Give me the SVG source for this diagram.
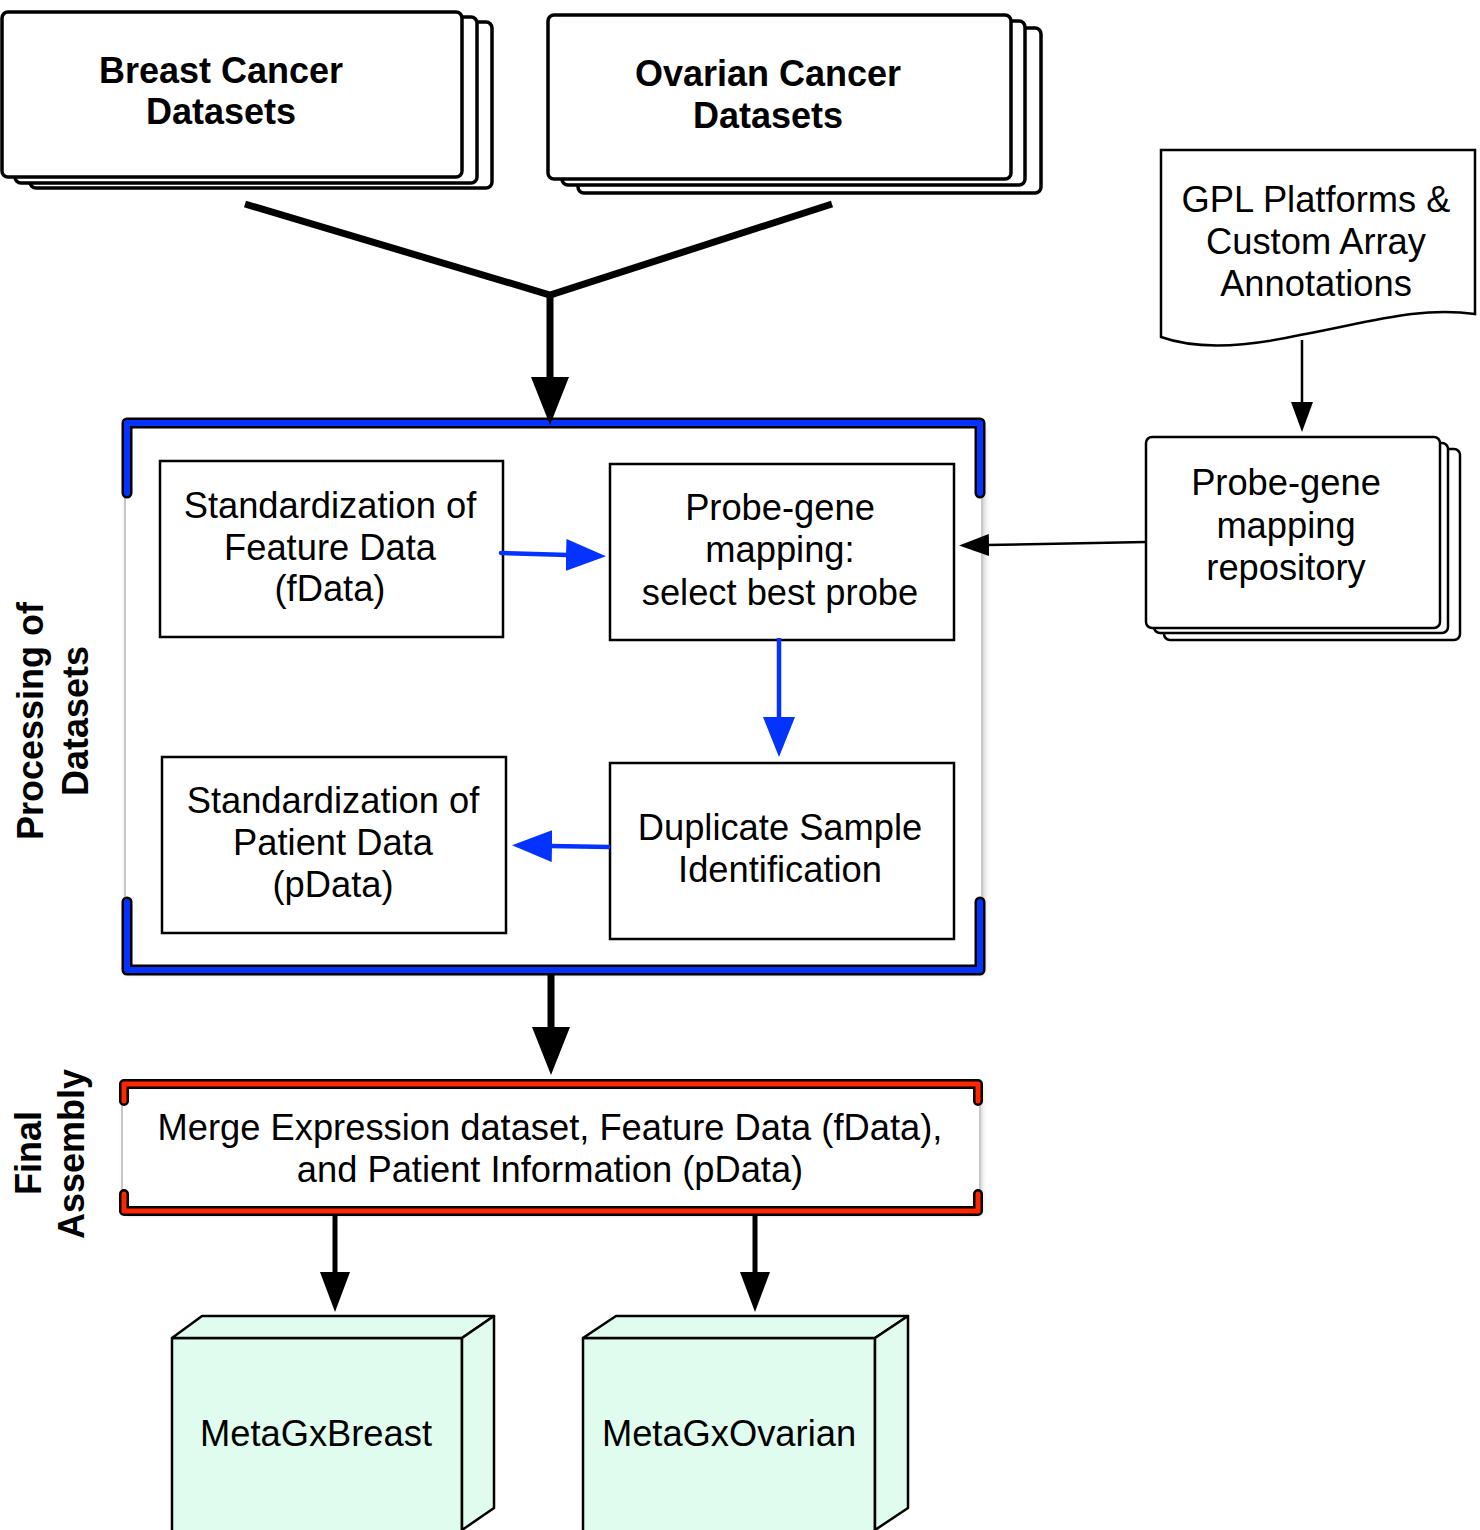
<svg xmlns="http://www.w3.org/2000/svg" width="1480" height="1530" viewBox="0 0 1480 1530">
<defs>
<style>
.t{font-family:"Liberation Sans",Arial,sans-serif;font-size:36.3px;fill:#000;text-anchor:middle}
.b{font-family:"Liberation Sans",Arial,sans-serif;font-size:36px;font-weight:bold;fill:#000;text-anchor:middle}
.stk{fill:#fff;stroke:#000;stroke-width:3.5}
.stk2{fill:#fff;stroke:#000;stroke-width:2.5}
.box{fill:#fff;stroke:#000;stroke-width:2.5}
.cube{fill:#E0FCEE;stroke:#000;stroke-width:2.5;stroke-linejoin:round}
.outline{fill:none;stroke:#000;stroke-linecap:round;stroke-linejoin:round}
.side{fill:none;stroke:#c8c8c8;stroke-width:2}
</style>
<filter id="sh" x="-5%" y="-5%" width="110%" height="110%">
<feDropShadow dx="2" dy="3" stdDeviation="3" flood-color="#000" flood-opacity="0.25"/>
</filter>
<marker id="bigHead" markerUnits="userSpaceOnUse" markerWidth="50" markerHeight="40" refX="2" refY="19" orient="auto">
<path d="M0,0 L48,19 L0,38 z" fill="#000"/>
</marker>
<marker id="midHead" markerUnits="userSpaceOnUse" markerWidth="42" markerHeight="32" refX="2" refY="15" orient="auto">
<path d="M0,0 L40,15 L0,30 z" fill="#000"/>
</marker>
<marker id="blueHead" markerUnits="userSpaceOnUse" markerWidth="42" markerHeight="34" refX="2" refY="16" orient="auto">
<path d="M0,0 L40,16 L0,32 z" fill="#0433FF"/>
</marker>
<marker id="thinHead" markerUnits="userSpaceOnUse" markerWidth="32" markerHeight="24" refX="2" refY="11" orient="auto">
<path d="M0,0 L30,11 L0,22 z" fill="#000"/>
</marker>
</defs>
<rect width="1480" height="1530" fill="#fff"/>

<!-- Containers -->
<g id="processing-container">
<rect x="125" y="423" width="857" height="547" fill="#fff" filter="url(#sh)"/>
<line class="side" x1="125" y1="493" x2="125" y2="902"/>
<line class="side" x1="982" y1="493" x2="982" y2="902"/>
<path class="outline" stroke-width="11" d="M127,493 V423 H980 V493 M127,902 V970 H980 V902"/>
<path fill="none" stroke="#0433FF" stroke-width="6" stroke-linecap="round" stroke-linejoin="round" d="M127,493 V423 H980 V493 M127,902 V970 H980 V902"/>
</g>
<g id="assembly-container">
<rect x="123" y="1084" width="856" height="127" fill="#fff" filter="url(#sh)"/>
<line class="side" x1="122" y1="1101" x2="122" y2="1194"/>
<line class="side" x1="980" y1="1101" x2="980" y2="1194"/>
<path class="outline" stroke-width="10" d="M124,1101 V1084 H978 V1101 M124,1194 V1211 H978 V1194"/>
<path fill="none" stroke="#FF2600" stroke-width="5" stroke-linecap="round" stroke-linejoin="round" d="M124,1101 V1084 H978 V1101 M124,1194 V1211 H978 V1194"/>
<text class="t" x="550" y="1140">Merge Expression dataset, Feature Data (fData),</text>
<text class="t" x="550" y="1182">and Patient Information (pData)</text>
</g>

<!-- Side labels -->
<g id="label-processing">
<text class="b" transform="translate(43,721) rotate(-90)">Processing of</text>
<text class="b" transform="translate(88,721) rotate(-90)">Datasets</text>
</g>
<g id="label-assembly">
<text class="b" transform="translate(41,1153) rotate(-90)">Final</text>
<text class="b" transform="translate(84,1154) rotate(-90)">Assembly</text>
</g>

<!-- Nodes -->
<g id="breast-datasets">
<rect class="stk" x="30" y="22" width="462" height="166" rx="6"/>
<rect class="stk" x="15" y="17" width="462" height="166" rx="6"/>
<rect class="stk" x="2" y="12" width="460" height="165" rx="6"/>
<text class="b" x="221" y="83">Breast Cancer</text>
<text class="b" x="221" y="124">Datasets</text>
</g>
<g id="ovarian-datasets">
<rect class="stk" x="578" y="28" width="463" height="165" rx="6"/>
<rect class="stk" x="562" y="21" width="463" height="164" rx="6"/>
<rect class="stk" x="548" y="15" width="463" height="164" rx="6"/>
<text class="b" x="768" y="86">Ovarian Cancer</text>
<text class="b" x="768" y="128">Datasets</text>
</g>
<g id="gpl-platforms">
<path class="box" d="M1161,150 H1475 V314 C1420,306 1370,322 1300,335 C1250,346 1200,351 1161,337 Z"/>
<text class="t" x="1316" y="212">GPL Platforms &amp;</text>
<text class="t" x="1316" y="254">Custom Array</text>
<text class="t" x="1316" y="296">Annotations</text>
</g>
<g id="probe-repository">
<rect class="stk2" x="1164" y="449" width="296" height="191" rx="6"/>
<rect class="stk2" x="1154" y="443" width="294" height="190" rx="6"/>
<rect class="stk2" x="1146" y="437" width="294" height="191" rx="6"/>
<text class="t" x="1286" y="495">Probe-gene</text>
<text class="t" x="1286" y="538">mapping</text>
<text class="t" x="1286" y="580">repository</text>
</g>
<g id="std-feature">
<rect class="box" x="160" y="461" width="343" height="176"/>
<text class="t" x="330" y="518">Standardization of</text>
<text class="t" x="330" y="560">Feature Data</text>
<text class="t" x="330" y="601">(fData)</text>
</g>
<g id="probe-mapping">
<rect class="box" x="610" y="464" width="344" height="176"/>
<text class="t" x="780" y="520">Probe-gene</text>
<text class="t" x="780" y="562">mapping:</text>
<text class="t" x="780" y="605">select best probe</text>
</g>
<g id="duplicate-sample">
<rect class="box" x="610" y="763" width="344" height="176"/>
<text class="t" x="780" y="840">Duplicate Sample</text>
<text class="t" x="780" y="882">Identification</text>
</g>
<g id="std-patient">
<rect class="box" x="162" y="757" width="344" height="176"/>
<text class="t" x="333" y="813">Standardization of</text>
<text class="t" x="333" y="855">Patient Data</text>
<text class="t" x="333" y="897">(pData)</text>
</g>
<g id="metagx-breast">
<rect class="cube" x="172" y="1338" width="290" height="200"/>
<polygon class="cube" points="172,1338 202,1316 494,1316 462,1338"/>
<polygon class="cube" points="462,1338 494,1316 494,1508 462,1530"/>
<text class="t" x="316" y="1446">MetaGxBreast</text>
</g>
<g id="metagx-ovarian">
<rect class="cube" x="583" y="1338" width="292" height="200"/>
<polygon class="cube" points="583,1338 616,1316 908,1316 875,1338"/>
<polygon class="cube" points="875,1338 908,1316 908,1508 875,1530"/>
<text class="t" x="729" y="1446">MetaGxOvarian</text>
</g>

<!-- Connectors -->
<g id="connectors" fill="none">
<path d="M245,204 L550,295 L832,204" stroke="#000" stroke-width="7"/>
<path d="M550,295 V379" stroke="#000" stroke-width="7" marker-end="url(#bigHead)"/>
<path d="M551,975 V1029" stroke="#000" stroke-width="7" marker-end="url(#bigHead)"/>
<path d="M335,1216 V1274" stroke="#000" stroke-width="5" marker-end="url(#midHead)"/>
<path d="M755,1216 V1274" stroke="#000" stroke-width="5" marker-end="url(#midHead)"/>
<path d="M1302,340 V404" stroke="#000" stroke-width="2.5" marker-end="url(#thinHead)"/>
<path d="M1146,542 L987,545" stroke="#000" stroke-width="2.5" marker-end="url(#thinHead)"/>
<path d="M501,553 L568,555" stroke="#0433FF" stroke-width="4.5" stroke-linecap="round" marker-end="url(#blueHead)"/>
<path d="M779,638 V719" stroke="#0433FF" stroke-width="4.5" marker-end="url(#blueHead)"/>
<path d="M610,847 L550,846" stroke="#0433FF" stroke-width="4.5" marker-end="url(#blueHead)"/>
</g>
</svg>
